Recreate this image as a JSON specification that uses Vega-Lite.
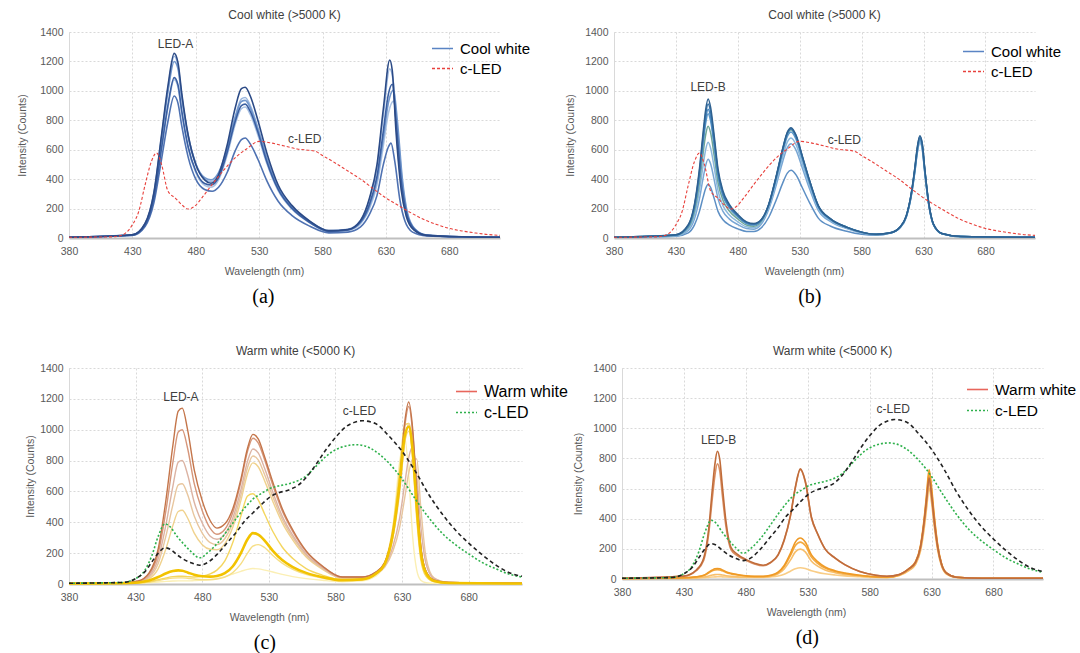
{
"$schema": "https://vega.github.io/schema/vega-lite/v6.json",
"padding": {"left": 17, "top": 9, "right": 0, "bottom": 0},
"config": {
 "font": "Liberation Sans",
 "view": {"stroke": null},
 "axis": {"labelFontSize": 10.5, "labelColor": "#595959", "titleFontSize": 10.5, "titleFontWeight": "normal", "titleColor": "#595959", "ticks": false, "gridColor": "#d9d9d9", "gridDash": [2, 2], "labelPadding": 6, "labelOverlap": false, "labelFlush": false},
 "axisX": {"domainColor": "#bfbfbf", "domainWidth": 2, "titlePadding": 10, "labelPadding": 8},
 "axisY": {"domainColor": "#d9d9d9", "format": "d"},
 "title": {"fontSize": 12, "fontWeight": "normal", "color": "#404040", "offset": 5},
 "legend": {"symbolType": "stroke", "symbolSize": 441, "symbolStrokeWidth": 1.6, "labelColor": "#000000", "labelFontSize": 16, "padding": 0, "rowPadding": 0, "labelOffset": 6, "orient": "none", "title": null}
},
"datasets": {
"a": [
{"s":"a5","x":380,"y":5},{"s":"a5","x":430,"y":19},{"s":"a5","x":440,"y":86},{"s":"a5","x":447,"y":268},{"s":"a5","x":453,"y":600},{"s":"a5","x":458,"y":885},{"s":"a5","x":463,"y":1075},{"s":"a5","x":466,"y":1025},{"s":"a5","x":469,"y":845},{"s":"a5","x":474,"y":610},{"s":"a5","x":480,"y":445},{"s":"a5","x":487,"y":358},{"s":"a5","x":492,"y":345},{"s":"a5","x":498,"y":395},{"s":"a5","x":505,"y":570},{"s":"a5","x":511,"y":770},{"s":"a5","x":516,"y":880},{"s":"a5","x":519,"y":890},{"s":"a5","x":523,"y":840},{"s":"a5","x":529,"y":700},{"s":"a5","x":536,"y":508},{"s":"a5","x":545,"y":322},{"s":"a5","x":556,"y":195},{"s":"a5","x":570,"y":103},{"s":"a5","x":585,"y":44},{"s":"a5","x":600,"y":52},{"s":"a5","x":610,"y":98},{"s":"a5","x":617,"y":200},{"s":"a5","x":623,"y":365},{"s":"a5","x":628,"y":630},{"s":"a5","x":632,"y":850},{"s":"a5","x":636,"y":930},{"s":"a5","x":639,"y":740},{"s":"a5","x":643,"y":370},{"s":"a5","x":647,"y":160},{"s":"a5","x":653,"y":55},{"s":"a5","x":662,"y":18},{"s":"a5","x":690,"y":8},{"s":"a5","x":720,"y":5},
{"s":"a2","x":380,"y":5},{"s":"a2","x":430,"y":22},{"s":"a2","x":440,"y":98},{"s":"a2","x":447,"y":305},{"s":"a2","x":453,"y":690},{"s":"a2","x":458,"y":1010},{"s":"a2","x":463,"y":1235},{"s":"a2","x":466,"y":1170},{"s":"a2","x":469,"y":965},{"s":"a2","x":474,"y":695},{"s":"a2","x":480,"y":505},{"s":"a2","x":487,"y":400},{"s":"a2","x":492,"y":382},{"s":"a2","x":498,"y":430},{"s":"a2","x":505,"y":610},{"s":"a2","x":511,"y":820},{"s":"a2","x":516,"y":945},{"s":"a2","x":519,"y":955},{"s":"a2","x":523,"y":900},{"s":"a2","x":529,"y":750},{"s":"a2","x":536,"y":545},{"s":"a2","x":545,"y":345},{"s":"a2","x":556,"y":210},{"s":"a2","x":570,"y":112},{"s":"a2","x":585,"y":50},{"s":"a2","x":600,"y":60},{"s":"a2","x":610,"y":120},{"s":"a2","x":617,"y":260},{"s":"a2","x":623,"y":480},{"s":"a2","x":628,"y":840},{"s":"a2","x":633,"y":1150},{"s":"a2","x":636,"y":1050},{"s":"a2","x":639,"y":640},{"s":"a2","x":643,"y":300},{"s":"a2","x":647,"y":130},{"s":"a2","x":653,"y":50},{"s":"a2","x":662,"y":18},{"s":"a2","x":690,"y":8},{"s":"a2","x":720,"y":5},
{"s":"a4","x":380,"y":5},{"s":"a4","x":430,"y":21},{"s":"a4","x":440,"y":95},{"s":"a4","x":447,"y":300},{"s":"a4","x":453,"y":675},{"s":"a4","x":458,"y":990},{"s":"a4","x":463,"y":1200},{"s":"a4","x":466,"y":1150},{"s":"a4","x":469,"y":950},{"s":"a4","x":474,"y":690},{"s":"a4","x":480,"y":505},{"s":"a4","x":487,"y":410},{"s":"a4","x":492,"y":395},{"s":"a4","x":498,"y":445},{"s":"a4","x":505,"y":615},{"s":"a4","x":511,"y":815},{"s":"a4","x":516,"y":928},{"s":"a4","x":519,"y":935},{"s":"a4","x":523,"y":885},{"s":"a4","x":529,"y":740},{"s":"a4","x":536,"y":540},{"s":"a4","x":545,"y":340},{"s":"a4","x":556,"y":208},{"s":"a4","x":570,"y":110},{"s":"a4","x":585,"y":48},{"s":"a4","x":600,"y":55},{"s":"a4","x":610,"y":105},{"s":"a4","x":617,"y":215},{"s":"a4","x":623,"y":395},{"s":"a4","x":628,"y":680},{"s":"a4","x":632,"y":920},{"s":"a4","x":636,"y":1005},{"s":"a4","x":639,"y":800},{"s":"a4","x":643,"y":400},{"s":"a4","x":647,"y":170},{"s":"a4","x":653,"y":60},{"s":"a4","x":662,"y":20},{"s":"a4","x":690,"y":8},{"s":"a4","x":720,"y":5},
{"s":"a6","x":380,"y":5},{"s":"a6","x":430,"y":17},{"s":"a6","x":440,"y":78},{"s":"a6","x":447,"y":240},{"s":"a6","x":453,"y":535},{"s":"a6","x":458,"y":790},{"s":"a6","x":463,"y":965},{"s":"a6","x":466,"y":915},{"s":"a6","x":469,"y":760},{"s":"a6","x":474,"y":550},{"s":"a6","x":480,"y":400},{"s":"a6","x":487,"y":330},{"s":"a6","x":493,"y":318},{"s":"a6","x":498,"y":345},{"s":"a6","x":505,"y":450},{"s":"a6","x":511,"y":590},{"s":"a6","x":516,"y":668},{"s":"a6","x":519,"y":680},{"s":"a6","x":523,"y":640},{"s":"a6","x":529,"y":535},{"s":"a6","x":536,"y":390},{"s":"a6","x":545,"y":250},{"s":"a6","x":556,"y":152},{"s":"a6","x":570,"y":80},{"s":"a6","x":585,"y":35},{"s":"a6","x":600,"y":40},{"s":"a6","x":610,"y":75},{"s":"a6","x":617,"y":160},{"s":"a6","x":623,"y":290},{"s":"a6","x":628,"y":500},{"s":"a6","x":632,"y":620},{"s":"a6","x":634,"y":645},{"s":"a6","x":637,"y":520},{"s":"a6","x":641,"y":260},{"s":"a6","x":645,"y":115},{"s":"a6","x":651,"y":40},{"s":"a6","x":662,"y":14},{"s":"a6","x":690,"y":7},{"s":"a6","x":720,"y":5},
{"s":"a3","x":380,"y":5},{"s":"a3","x":430,"y":20},{"s":"a3","x":440,"y":88},{"s":"a3","x":447,"y":272},{"s":"a3","x":453,"y":610},{"s":"a3","x":458,"y":900},{"s":"a3","x":463,"y":1090},{"s":"a3","x":466,"y":1040},{"s":"a3","x":469,"y":860},{"s":"a3","x":474,"y":620},{"s":"a3","x":480,"y":455},{"s":"a3","x":487,"y":370},{"s":"a3","x":492,"y":360},{"s":"a3","x":498,"y":410},{"s":"a3","x":505,"y":590},{"s":"a3","x":511,"y":790},{"s":"a3","x":516,"y":900},{"s":"a3","x":519,"y":910},{"s":"a3","x":523,"y":860},{"s":"a3","x":529,"y":720},{"s":"a3","x":536,"y":520},{"s":"a3","x":545,"y":330},{"s":"a3","x":556,"y":200},{"s":"a3","x":570,"y":105},{"s":"a3","x":585,"y":45},{"s":"a3","x":600,"y":55},{"s":"a3","x":610,"y":110},{"s":"a3","x":617,"y":230},{"s":"a3","x":623,"y":420},{"s":"a3","x":628,"y":730},{"s":"a3","x":632,"y":980},{"s":"a3","x":635,"y":1045},{"s":"a3","x":638,"y":800},{"s":"a3","x":642,"y":400},{"s":"a3","x":646,"y":180},{"s":"a3","x":652,"y":65},{"s":"a3","x":662,"y":20},{"s":"a3","x":690,"y":8},{"s":"a3","x":720,"y":5},
{"s":"a1","x":380,"y":5},{"s":"a1","x":430,"y":22},{"s":"a1","x":440,"y":100},{"s":"a1","x":447,"y":310},{"s":"a1","x":453,"y":700},{"s":"a1","x":458,"y":1030},{"s":"a1","x":463,"y":1255},{"s":"a1","x":466,"y":1190},{"s":"a1","x":469,"y":980},{"s":"a1","x":474,"y":700},{"s":"a1","x":480,"y":500},{"s":"a1","x":487,"y":395},{"s":"a1","x":492,"y":372},{"s":"a1","x":498,"y":430},{"s":"a1","x":505,"y":640},{"s":"a1","x":511,"y":880},{"s":"a1","x":516,"y":1015},{"s":"a1","x":519,"y":1025},{"s":"a1","x":523,"y":965},{"s":"a1","x":529,"y":800},{"s":"a1","x":536,"y":580},{"s":"a1","x":545,"y":360},{"s":"a1","x":556,"y":220},{"s":"a1","x":570,"y":115},{"s":"a1","x":585,"y":50},{"s":"a1","x":600,"y":58},{"s":"a1","x":610,"y":120},{"s":"a1","x":617,"y":270},{"s":"a1","x":623,"y":500},{"s":"a1","x":628,"y":880},{"s":"a1","x":633,"y":1210},{"s":"a1","x":635,"y":1140},{"s":"a1","x":638,"y":720},{"s":"a1","x":642,"y":330},{"s":"a1","x":646,"y":150},{"s":"a1","x":652,"y":55},{"s":"a1","x":662,"y":18},{"s":"a1","x":690,"y":8},{"s":"a1","x":720,"y":5}
],
"b": [
{"s":"b8","x":380,"y":5},{"s":"b8","x":430,"y":12},{"s":"b8","x":440,"y":35},{"s":"b8","x":445,"y":89},{"s":"b8","x":449,"y":181},{"s":"b8","x":452,"y":278},{"s":"b8","x":454,"y":336},{"s":"b8","x":456,"y":365},{"s":"b8","x":458,"y":344},{"s":"b8","x":461,"y":266},{"s":"b8","x":464,"y":181},{"s":"b8","x":468,"y":124},{"s":"b8","x":473,"y":89},{"s":"b8","x":480,"y":62},{"s":"b8","x":487,"y":45},{"s":"b8","x":493,"y":45},{"s":"b8","x":499,"y":70},{"s":"b8","x":505,"y":141},{"s":"b8","x":511,"y":258},{"s":"b8","x":516,"y":368},{"s":"b8","x":520,"y":441},{"s":"b8","x":523,"y":460},{"s":"b8","x":527,"y":429},{"s":"b8","x":532,"y":343},{"s":"b8","x":538,"y":239},{"s":"b8","x":545,"y":135},{"s":"b8","x":555,"y":80},{"s":"b8","x":568,"y":46},{"s":"b8","x":580,"y":25},{"s":"b8","x":592,"y":18},{"s":"b8","x":603,"y":33},{"s":"b8","x":611,"y":71},{"s":"b8","x":616,"y":143},{"s":"b8","x":620,"y":285},{"s":"b8","x":623,"y":456},{"s":"b8","x":625,"y":589},{"s":"b8","x":627,"y":660},{"s":"b8","x":629,"y":608},{"s":"b8","x":631,"y":447},{"s":"b8","x":634,"y":238},{"s":"b8","x":638,"y":90},{"s":"b8","x":645,"y":29},{"s":"b8","x":660,"y":10},{"s":"b8","x":720,"y":5},
{"s":"b7","x":380,"y":5},{"s":"b7","x":430,"y":14},{"s":"b7","x":440,"y":51},{"s":"b7","x":445,"y":130},{"s":"b7","x":449,"y":266},{"s":"b7","x":452,"y":408},{"s":"b7","x":454,"y":492},{"s":"b7","x":456,"y":535},{"s":"b7","x":458,"y":504},{"s":"b7","x":461,"y":391},{"s":"b7","x":464,"y":266},{"s":"b7","x":468,"y":181},{"s":"b7","x":473,"y":130},{"s":"b7","x":480,"y":91},{"s":"b7","x":487,"y":64},{"s":"b7","x":493,"y":60},{"s":"b7","x":499,"y":95},{"s":"b7","x":505,"y":196},{"s":"b7","x":511,"y":358},{"s":"b7","x":516,"y":512},{"s":"b7","x":520,"y":614},{"s":"b7","x":523,"y":640},{"s":"b7","x":527,"y":597},{"s":"b7","x":532,"y":478},{"s":"b7","x":538,"y":333},{"s":"b7","x":545,"y":188},{"s":"b7","x":555,"y":111},{"s":"b7","x":568,"y":64},{"s":"b7","x":580,"y":34},{"s":"b7","x":592,"y":22},{"s":"b7","x":603,"y":33},{"s":"b7","x":611,"y":70},{"s":"b7","x":616,"y":140},{"s":"b7","x":620,"y":281},{"s":"b7","x":623,"y":449},{"s":"b7","x":625,"y":580},{"s":"b7","x":627,"y":650},{"s":"b7","x":629,"y":598},{"s":"b7","x":631,"y":440},{"s":"b7","x":634,"y":234},{"s":"b7","x":638,"y":89},{"s":"b7","x":645,"y":28},{"s":"b7","x":660,"y":10},{"s":"b7","x":720,"y":5},
{"s":"b6","x":380,"y":5},{"s":"b6","x":430,"y":16},{"s":"b6","x":440,"y":62},{"s":"b6","x":445,"y":158},{"s":"b6","x":449,"y":323},{"s":"b6","x":452,"y":495},{"s":"b6","x":454,"y":599},{"s":"b6","x":456,"y":650},{"s":"b6","x":458,"y":612},{"s":"b6","x":461,"y":475},{"s":"b6","x":464,"y":323},{"s":"b6","x":468,"y":220},{"s":"b6","x":473,"y":158},{"s":"b6","x":480,"y":110},{"s":"b6","x":487,"y":76},{"s":"b6","x":493,"y":70},{"s":"b6","x":499,"y":105},{"s":"b6","x":505,"y":209},{"s":"b6","x":511,"y":381},{"s":"b6","x":516,"y":544},{"s":"b6","x":520,"y":653},{"s":"b6","x":523,"y":680},{"s":"b6","x":527,"y":635},{"s":"b6","x":532,"y":508},{"s":"b6","x":538,"y":354},{"s":"b6","x":545,"y":200},{"s":"b6","x":555,"y":118},{"s":"b6","x":568,"y":68},{"s":"b6","x":580,"y":36},{"s":"b6","x":592,"y":23},{"s":"b6","x":603,"y":33},{"s":"b6","x":611,"y":71},{"s":"b6","x":616,"y":143},{"s":"b6","x":620,"y":285},{"s":"b6","x":623,"y":456},{"s":"b6","x":625,"y":589},{"s":"b6","x":627,"y":660},{"s":"b6","x":629,"y":608},{"s":"b6","x":631,"y":447},{"s":"b6","x":634,"y":238},{"s":"b6","x":638,"y":90},{"s":"b6","x":645,"y":29},{"s":"b6","x":660,"y":10},{"s":"b6","x":720,"y":5},
{"s":"b5","x":380,"y":5},{"s":"b5","x":430,"y":18},{"s":"b5","x":440,"y":72},{"s":"b5","x":445,"y":185},{"s":"b5","x":449,"y":378},{"s":"b5","x":452,"y":579},{"s":"b5","x":454,"y":700},{"s":"b5","x":456,"y":760},{"s":"b5","x":458,"y":716},{"s":"b5","x":461,"y":555},{"s":"b5","x":464,"y":378},{"s":"b5","x":468,"y":257},{"s":"b5","x":473,"y":185},{"s":"b5","x":480,"y":129},{"s":"b5","x":487,"y":88},{"s":"b5","x":493,"y":80},{"s":"b5","x":499,"y":115},{"s":"b5","x":505,"y":225},{"s":"b5","x":511,"y":412},{"s":"b5","x":516,"y":588},{"s":"b5","x":520,"y":706},{"s":"b5","x":523,"y":735},{"s":"b5","x":527,"y":686},{"s":"b5","x":532,"y":549},{"s":"b5","x":538,"y":382},{"s":"b5","x":545,"y":216},{"s":"b5","x":555,"y":127},{"s":"b5","x":568,"y":74},{"s":"b5","x":580,"y":39},{"s":"b5","x":592,"y":24},{"s":"b5","x":603,"y":34},{"s":"b5","x":611,"y":73},{"s":"b5","x":616,"y":147},{"s":"b5","x":620,"y":293},{"s":"b5","x":623,"y":469},{"s":"b5","x":625,"y":606},{"s":"b5","x":627,"y":680},{"s":"b5","x":629,"y":626},{"s":"b5","x":631,"y":460},{"s":"b5","x":634,"y":245},{"s":"b5","x":638,"y":93},{"s":"b5","x":645,"y":29},{"s":"b5","x":660,"y":10},{"s":"b5","x":720,"y":5},
{"s":"b4","x":380,"y":5},{"s":"b4","x":430,"y":20},{"s":"b4","x":440,"y":80},{"s":"b4","x":445,"y":206},{"s":"b4","x":449,"y":420},{"s":"b4","x":452,"y":644},{"s":"b4","x":454,"y":778},{"s":"b4","x":456,"y":845},{"s":"b4","x":458,"y":796},{"s":"b4","x":461,"y":617},{"s":"b4","x":464,"y":420},{"s":"b4","x":468,"y":286},{"s":"b4","x":473,"y":206},{"s":"b4","x":480,"y":143},{"s":"b4","x":487,"y":98},{"s":"b4","x":493,"y":88},{"s":"b4","x":499,"y":120},{"s":"b4","x":505,"y":221},{"s":"b4","x":511,"y":403},{"s":"b4","x":516,"y":576},{"s":"b4","x":520,"y":691},{"s":"b4","x":523,"y":720},{"s":"b4","x":527,"y":672},{"s":"b4","x":532,"y":538},{"s":"b4","x":538,"y":374},{"s":"b4","x":545,"y":211},{"s":"b4","x":555,"y":125},{"s":"b4","x":568,"y":72},{"s":"b4","x":580,"y":38},{"s":"b4","x":592,"y":24},{"s":"b4","x":603,"y":34},{"s":"b4","x":611,"y":72},{"s":"b4","x":616,"y":145},{"s":"b4","x":620,"y":289},{"s":"b4","x":623,"y":463},{"s":"b4","x":625,"y":598},{"s":"b4","x":627,"y":670},{"s":"b4","x":629,"y":617},{"s":"b4","x":631,"y":453},{"s":"b4","x":634,"y":241},{"s":"b4","x":638,"y":92},{"s":"b4","x":645,"y":29},{"s":"b4","x":660,"y":10},{"s":"b4","x":720,"y":5},
{"s":"b3","x":380,"y":5},{"s":"b3","x":430,"y":20},{"s":"b3","x":440,"y":83},{"s":"b3","x":445,"y":213},{"s":"b3","x":449,"y":435},{"s":"b3","x":452,"y":667},{"s":"b3","x":454,"y":806},{"s":"b3","x":456,"y":875},{"s":"b3","x":458,"y":824},{"s":"b3","x":461,"y":639},{"s":"b3","x":464,"y":435},{"s":"b3","x":468,"y":296},{"s":"b3","x":473,"y":213},{"s":"b3","x":480,"y":148},{"s":"b3","x":487,"y":102},{"s":"b3","x":493,"y":92},{"s":"b3","x":499,"y":124},{"s":"b3","x":505,"y":228},{"s":"b3","x":511,"y":417},{"s":"b3","x":516,"y":596},{"s":"b3","x":520,"y":715},{"s":"b3","x":523,"y":745},{"s":"b3","x":527,"y":695},{"s":"b3","x":532,"y":556},{"s":"b3","x":538,"y":387},{"s":"b3","x":545,"y":218},{"s":"b3","x":555,"y":129},{"s":"b3","x":568,"y":74},{"s":"b3","x":580,"y":40},{"s":"b3","x":592,"y":25},{"s":"b3","x":603,"y":35},{"s":"b3","x":611,"y":74},{"s":"b3","x":616,"y":149},{"s":"b3","x":620,"y":298},{"s":"b3","x":623,"y":477},{"s":"b3","x":625,"y":616},{"s":"b3","x":627,"y":690},{"s":"b3","x":629,"y":636},{"s":"b3","x":631,"y":467},{"s":"b3","x":634,"y":248},{"s":"b3","x":638,"y":94},{"s":"b3","x":645,"y":30},{"s":"b3","x":660,"y":10},{"s":"b3","x":720,"y":5},
{"s":"b2","x":380,"y":5},{"s":"b2","x":430,"y":21},{"s":"b2","x":440,"y":87},{"s":"b2","x":445,"y":222},{"s":"b2","x":449,"y":453},{"s":"b2","x":452,"y":693},{"s":"b2","x":454,"y":838},{"s":"b2","x":456,"y":910},{"s":"b2","x":458,"y":857},{"s":"b2","x":461,"y":664},{"s":"b2","x":464,"y":453},{"s":"b2","x":468,"y":308},{"s":"b2","x":473,"y":222},{"s":"b2","x":480,"y":154},{"s":"b2","x":487,"y":106},{"s":"b2","x":493,"y":95},{"s":"b2","x":499,"y":123},{"s":"b2","x":505,"y":227},{"s":"b2","x":511,"y":415},{"s":"b2","x":516,"y":592},{"s":"b2","x":520,"y":711},{"s":"b2","x":523,"y":740},{"s":"b2","x":527,"y":691},{"s":"b2","x":532,"y":553},{"s":"b2","x":538,"y":385},{"s":"b2","x":545,"y":217},{"s":"b2","x":555,"y":128},{"s":"b2","x":568,"y":74},{"s":"b2","x":580,"y":40},{"s":"b2","x":592,"y":25},{"s":"b2","x":603,"y":34},{"s":"b2","x":611,"y":73},{"s":"b2","x":616,"y":147},{"s":"b2","x":620,"y":293},{"s":"b2","x":623,"y":469},{"s":"b2","x":625,"y":606},{"s":"b2","x":627,"y":680},{"s":"b2","x":629,"y":626},{"s":"b2","x":631,"y":460},{"s":"b2","x":634,"y":245},{"s":"b2","x":638,"y":93},{"s":"b2","x":645,"y":29},{"s":"b2","x":660,"y":10},{"s":"b2","x":720,"y":5},
{"s":"b1","x":380,"y":5},{"s":"b1","x":430,"y":22},{"s":"b1","x":440,"y":90},{"s":"b1","x":445,"y":230},{"s":"b1","x":449,"y":470},{"s":"b1","x":452,"y":720},{"s":"b1","x":454,"y":870},{"s":"b1","x":456,"y":945},{"s":"b1","x":458,"y":890},{"s":"b1","x":461,"y":690},{"s":"b1","x":464,"y":470},{"s":"b1","x":468,"y":320},{"s":"b1","x":473,"y":230},{"s":"b1","x":480,"y":160},{"s":"b1","x":487,"y":110},{"s":"b1","x":493,"y":98},{"s":"b1","x":499,"y":125},{"s":"b1","x":505,"y":230},{"s":"b1","x":511,"y":420},{"s":"b1","x":516,"y":600},{"s":"b1","x":520,"y":720},{"s":"b1","x":523,"y":750},{"s":"b1","x":527,"y":700},{"s":"b1","x":532,"y":560},{"s":"b1","x":538,"y":390},{"s":"b1","x":545,"y":220},{"s":"b1","x":555,"y":130},{"s":"b1","x":568,"y":72},{"s":"b1","x":580,"y":40},{"s":"b1","x":592,"y":25},{"s":"b1","x":603,"y":35},{"s":"b1","x":611,"y":75},{"s":"b1","x":616,"y":150},{"s":"b1","x":620,"y":300},{"s":"b1","x":623,"y":480},{"s":"b1","x":625,"y":620},{"s":"b1","x":627,"y":695},{"s":"b1","x":629,"y":640},{"s":"b1","x":631,"y":470},{"s":"b1","x":634,"y":250},{"s":"b1","x":638,"y":95},{"s":"b1","x":645,"y":30},{"s":"b1","x":660,"y":10},{"s":"b1","x":720,"y":5}
],
"c": [
{"s":"c9","x":380,"y":3},{"s":"c9","x":420,"y":4},{"s":"c9","x":432,"y":5},{"s":"c9","x":440,"y":8},{"s":"c9","x":447,"y":13},{"s":"c9","x":453,"y":17},{"s":"c9","x":458,"y":19},{"s":"c9","x":462,"y":20},{"s":"c9","x":465,"y":20},{"s":"c9","x":469,"y":20},{"s":"c9","x":474,"y":22},{"s":"c9","x":480,"y":25},{"s":"c9","x":486,"y":30},{"s":"c9","x":491,"y":36},{"s":"c9","x":497,"y":48},{"s":"c9","x":503,"y":65},{"s":"c9","x":509,"y":82},{"s":"c9","x":514,"y":95},{"s":"c9","x":518,"y":100},{"s":"c9","x":522,"y":98},{"s":"c9","x":527,"y":90},{"s":"c9","x":533,"y":78},{"s":"c9","x":540,"y":62},{"s":"c9","x":548,"y":48},{"s":"c9","x":558,"y":35},{"s":"c9","x":570,"y":24},{"s":"c9","x":585,"y":15},{"s":"c9","x":600,"y":20},{"s":"c9","x":610,"y":50},{"s":"c9","x":617,"y":130},{"s":"c9","x":623,"y":360},{"s":"c9","x":628,"y":780},{"s":"c9","x":632,"y":950},{"s":"c9","x":635,"y":700},{"s":"c9","x":638,"y":300},{"s":"c9","x":641,"y":90},{"s":"c9","x":644,"y":25},{"s":"c9","x":648,"y":8},{"s":"c9","x":654,"y":4},{"s":"c9","x":665,"y":3},{"s":"c9","x":720,"y":3},
{"s":"c8","x":380,"y":3},{"s":"c8","x":420,"y":5},{"s":"c8","x":432,"y":7},{"s":"c8","x":440,"y":12},{"s":"c8","x":447,"y":22},{"s":"c8","x":453,"y":32},{"s":"c8","x":458,"y":38},{"s":"c8","x":462,"y":40},{"s":"c8","x":465,"y":40},{"s":"c8","x":469,"y":37},{"s":"c8","x":474,"y":32},{"s":"c8","x":480,"y":28},{"s":"c8","x":486,"y":28},{"s":"c8","x":491,"y":32},{"s":"c8","x":497,"y":45},{"s":"c8","x":503,"y":75},{"s":"c8","x":509,"y":130},{"s":"c8","x":514,"y":200},{"s":"c8","x":518,"y":245},{"s":"c8","x":522,"y":255},{"s":"c8","x":527,"y":235},{"s":"c8","x":533,"y":185},{"s":"c8","x":540,"y":135},{"s":"c8","x":548,"y":95},{"s":"c8","x":558,"y":62},{"s":"c8","x":570,"y":38},{"s":"c8","x":585,"y":22},{"s":"c8","x":600,"y":28},{"s":"c8","x":610,"y":60},{"s":"c8","x":617,"y":125},{"s":"c8","x":623,"y":300},{"s":"c8","x":628,"y":600},{"s":"c8","x":632,"y":920},{"s":"c8","x":635,"y":990},{"s":"c8","x":638,"y":840},{"s":"c8","x":641,"y":490},{"s":"c8","x":644,"y":205},{"s":"c8","x":648,"y":68},{"s":"c8","x":654,"y":20},{"s":"c8","x":665,"y":6},{"s":"c8","x":720,"y":3},
{"s":"c6","x":380,"y":3},{"s":"c6","x":420,"y":5},{"s":"c6","x":432,"y":8},{"s":"c6","x":440,"y":15},{"s":"c6","x":447,"y":28},{"s":"c6","x":453,"y":40},{"s":"c6","x":458,"y":48},{"s":"c6","x":462,"y":50},{"s":"c6","x":465,"y":50},{"s":"c6","x":469,"y":48},{"s":"c6","x":474,"y":45},{"s":"c6","x":480,"y":50},{"s":"c6","x":486,"y":65},{"s":"c6","x":491,"y":90},{"s":"c6","x":497,"y":150},{"s":"c6","x":503,"y":270},{"s":"c6","x":509,"y":440},{"s":"c6","x":514,"y":570},{"s":"c6","x":518,"y":585},{"s":"c6","x":522,"y":545},{"s":"c6","x":527,"y":450},{"s":"c6","x":533,"y":340},{"s":"c6","x":540,"y":240},{"s":"c6","x":548,"y":165},{"s":"c6","x":558,"y":100},{"s":"c6","x":570,"y":58},{"s":"c6","x":585,"y":28},{"s":"c6","x":600,"y":30},{"s":"c6","x":610,"y":65},{"s":"c6","x":617,"y":140},{"s":"c6","x":623,"y":360},{"s":"c6","x":628,"y":720},{"s":"c6","x":632,"y":1030},{"s":"c6","x":635,"y":1040},{"s":"c6","x":638,"y":800},{"s":"c6","x":641,"y":420},{"s":"c6","x":644,"y":160},{"s":"c6","x":648,"y":50},{"s":"c6","x":654,"y":15},{"s":"c6","x":665,"y":5},{"s":"c6","x":720,"y":3},
{"s":"c5","x":380,"y":5},{"s":"c5","x":420,"y":7},{"s":"c5","x":432,"y":11},{"s":"c5","x":440,"y":33},{"s":"c5","x":447,"y":100},{"s":"c5","x":453,"y":235},{"s":"c5","x":458,"y":380},{"s":"c5","x":462,"y":470},{"s":"c5","x":465,"y":478},{"s":"c5","x":469,"y":428},{"s":"c5","x":474,"y":330},{"s":"c5","x":480,"y":255},{"s":"c5","x":486,"y":225},{"s":"c5","x":491,"y":222},{"s":"c5","x":497,"y":262},{"s":"c5","x":503,"y":370},{"s":"c5","x":509,"y":540},{"s":"c5","x":514,"y":715},{"s":"c5","x":518,"y":785},{"s":"c5","x":522,"y":760},{"s":"c5","x":527,"y":665},{"s":"c5","x":533,"y":535},{"s":"c5","x":540,"y":398},{"s":"c5","x":548,"y":285},{"s":"c5","x":558,"y":175},{"s":"c5","x":570,"y":97},{"s":"c5","x":585,"y":38},{"s":"c5","x":600,"y":40},{"s":"c5","x":610,"y":70},{"s":"c5","x":617,"y":130},{"s":"c5","x":623,"y":300},{"s":"c5","x":628,"y":580},{"s":"c5","x":632,"y":920},{"s":"c5","x":635,"y":1040},{"s":"c5","x":638,"y":920},{"s":"c5","x":641,"y":560},{"s":"c5","x":644,"y":240},{"s":"c5","x":648,"y":80},{"s":"c5","x":654,"y":25},{"s":"c5","x":665,"y":10},{"s":"c5","x":720,"y":5},
{"s":"c4","x":380,"y":5},{"s":"c4","x":420,"y":7},{"s":"c4","x":432,"y":13},{"s":"c4","x":440,"y":42},{"s":"c4","x":447,"y":135},{"s":"c4","x":453,"y":320},{"s":"c4","x":458,"y":515},{"s":"c4","x":462,"y":642},{"s":"c4","x":465,"y":650},{"s":"c4","x":469,"y":580},{"s":"c4","x":474,"y":440},{"s":"c4","x":480,"y":330},{"s":"c4","x":486,"y":268},{"s":"c4","x":491,"y":255},{"s":"c4","x":497,"y":295},{"s":"c4","x":503,"y":400},{"s":"c4","x":509,"y":575},{"s":"c4","x":514,"y":755},{"s":"c4","x":518,"y":830},{"s":"c4","x":522,"y":805},{"s":"c4","x":527,"y":705},{"s":"c4","x":533,"y":565},{"s":"c4","x":540,"y":420},{"s":"c4","x":548,"y":300},{"s":"c4","x":558,"y":185},{"s":"c4","x":570,"y":102},{"s":"c4","x":585,"y":40},{"s":"c4","x":600,"y":40},{"s":"c4","x":610,"y":65},{"s":"c4","x":617,"y":110},{"s":"c4","x":623,"y":210},{"s":"c4","x":628,"y":360},{"s":"c4","x":632,"y":560},{"s":"c4","x":635,"y":720},{"s":"c4","x":638,"y":810},{"s":"c4","x":641,"y":810},{"s":"c4","x":644,"y":500},{"s":"c4","x":648,"y":170},{"s":"c4","x":654,"y":40},{"s":"c4","x":665,"y":10},{"s":"c4","x":720,"y":5},
{"s":"c3","x":380,"y":5},{"s":"c3","x":420,"y":7},{"s":"c3","x":432,"y":15},{"s":"c3","x":440,"y":50},{"s":"c3","x":447,"y":165},{"s":"c3","x":453,"y":395},{"s":"c3","x":458,"y":635},{"s":"c3","x":462,"y":790},{"s":"c3","x":465,"y":800},{"s":"c3","x":469,"y":710},{"s":"c3","x":474,"y":530},{"s":"c3","x":480,"y":395},{"s":"c3","x":486,"y":310},{"s":"c3","x":491,"y":290},{"s":"c3","x":497,"y":325},{"s":"c3","x":503,"y":430},{"s":"c3","x":509,"y":610},{"s":"c3","x":514,"y":795},{"s":"c3","x":518,"y":875},{"s":"c3","x":522,"y":850},{"s":"c3","x":527,"y":745},{"s":"c3","x":533,"y":595},{"s":"c3","x":540,"y":440},{"s":"c3","x":548,"y":315},{"s":"c3","x":558,"y":195},{"s":"c3","x":570,"y":108},{"s":"c3","x":585,"y":42},{"s":"c3","x":600,"y":42},{"s":"c3","x":610,"y":70},{"s":"c3","x":617,"y":120},{"s":"c3","x":623,"y":240},{"s":"c3","x":628,"y":420},{"s":"c3","x":632,"y":650},{"s":"c3","x":635,"y":820},{"s":"c3","x":638,"y":890},{"s":"c3","x":641,"y":700},{"s":"c3","x":644,"y":380},{"s":"c3","x":648,"y":130},{"s":"c3","x":654,"y":35},{"s":"c3","x":665,"y":10},{"s":"c3","x":720,"y":5},
{"s":"c2","x":380,"y":5},{"s":"c2","x":420,"y":8},{"s":"c2","x":432,"y":18},{"s":"c2","x":440,"y":62},{"s":"c2","x":447,"y":200},{"s":"c2","x":453,"y":490},{"s":"c2","x":458,"y":790},{"s":"c2","x":462,"y":985},{"s":"c2","x":465,"y":1000},{"s":"c2","x":469,"y":880},{"s":"c2","x":474,"y":650},{"s":"c2","x":480,"y":475},{"s":"c2","x":486,"y":360},{"s":"c2","x":491,"y":322},{"s":"c2","x":497,"y":355},{"s":"c2","x":503,"y":465},{"s":"c2","x":509,"y":660},{"s":"c2","x":514,"y":860},{"s":"c2","x":518,"y":945},{"s":"c2","x":522,"y":915},{"s":"c2","x":527,"y":800},{"s":"c2","x":533,"y":640},{"s":"c2","x":540,"y":475},{"s":"c2","x":548,"y":340},{"s":"c2","x":558,"y":210},{"s":"c2","x":570,"y":115},{"s":"c2","x":585,"y":45},{"s":"c2","x":600,"y":45},{"s":"c2","x":610,"y":75},{"s":"c2","x":617,"y":138},{"s":"c2","x":623,"y":325},{"s":"c2","x":628,"y":625},{"s":"c2","x":632,"y":1020},{"s":"c2","x":635,"y":1150},{"s":"c2","x":638,"y":975},{"s":"c2","x":641,"y":585},{"s":"c2","x":644,"y":245},{"s":"c2","x":648,"y":80},{"s":"c2","x":654,"y":25},{"s":"c2","x":665,"y":10},{"s":"c2","x":720,"y":5},
{"s":"c1","x":380,"y":5},{"s":"c1","x":420,"y":8},{"s":"c1","x":432,"y":20},{"s":"c1","x":440,"y":70},{"s":"c1","x":447,"y":230},{"s":"c1","x":453,"y":560},{"s":"c1","x":458,"y":900},{"s":"c1","x":462,"y":1120},{"s":"c1","x":465,"y":1140},{"s":"c1","x":469,"y":1000},{"s":"c1","x":474,"y":740},{"s":"c1","x":480,"y":540},{"s":"c1","x":486,"y":410},{"s":"c1","x":491,"y":362},{"s":"c1","x":497,"y":390},{"s":"c1","x":503,"y":490},{"s":"c1","x":509,"y":680},{"s":"c1","x":514,"y":880},{"s":"c1","x":518,"y":970},{"s":"c1","x":522,"y":940},{"s":"c1","x":527,"y":820},{"s":"c1","x":533,"y":660},{"s":"c1","x":540,"y":490},{"s":"c1","x":548,"y":350},{"s":"c1","x":558,"y":215},{"s":"c1","x":570,"y":118},{"s":"c1","x":585,"y":45},{"s":"c1","x":600,"y":45},{"s":"c1","x":610,"y":75},{"s":"c1","x":617,"y":140},{"s":"c1","x":623,"y":330},{"s":"c1","x":628,"y":640},{"s":"c1","x":632,"y":1050},{"s":"c1","x":635,"y":1180},{"s":"c1","x":638,"y":1000},{"s":"c1","x":641,"y":600},{"s":"c1","x":644,"y":250},{"s":"c1","x":648,"y":80},{"s":"c1","x":654,"y":25},{"s":"c1","x":665,"y":10},{"s":"c1","x":720,"y":5}
],
"c7": [
{"s":"c7","x":380,"y":3},{"s":"c7","x":420,"y":5},{"s":"c7","x":432,"y":10},{"s":"c7","x":440,"y":22},{"s":"c7","x":447,"y":45},{"s":"c7","x":453,"y":70},{"s":"c7","x":458,"y":84},{"s":"c7","x":462,"y":88},{"s":"c7","x":465,"y":86},{"s":"c7","x":469,"y":75},{"s":"c7","x":474,"y":60},{"s":"c7","x":480,"y":50},{"s":"c7","x":486,"y":48},{"s":"c7","x":491,"y":52},{"s":"c7","x":497,"y":70},{"s":"c7","x":503,"y":115},{"s":"c7","x":509,"y":200},{"s":"c7","x":514,"y":290},{"s":"c7","x":518,"y":330},{"s":"c7","x":522,"y":320},{"s":"c7","x":527,"y":280},{"s":"c7","x":533,"y":215},{"s":"c7","x":540,"y":155},{"s":"c7","x":548,"y":110},{"s":"c7","x":558,"y":72},{"s":"c7","x":570,"y":45},{"s":"c7","x":585,"y":25},{"s":"c7","x":600,"y":30},{"s":"c7","x":610,"y":65},{"s":"c7","x":617,"y":130},{"s":"c7","x":623,"y":320},{"s":"c7","x":628,"y":640},{"s":"c7","x":632,"y":960},{"s":"c7","x":635,"y":1020},{"s":"c7","x":638,"y":860},{"s":"c7","x":641,"y":500},{"s":"c7","x":644,"y":210},{"s":"c7","x":648,"y":70},{"s":"c7","x":654,"y":20},{"s":"c7","x":665,"y":6},{"s":"c7","x":720,"y":3}
],
"d": [
{"s":"d6","x":380,"y":3},{"s":"d6","x":430,"y":4},{"s":"d6","x":440,"y":6},{"s":"d6","x":446,"y":8},{"s":"d6","x":450,"y":11},{"s":"d6","x":453,"y":13},{"s":"d6","x":455,"y":14},{"s":"d6","x":457,"y":15},{"s":"d6","x":459,"y":15},{"s":"d6","x":461,"y":14},{"s":"d6","x":464,"y":13},{"s":"d6","x":468,"y":12},{"s":"d6","x":473,"y":11},{"s":"d6","x":480,"y":10},{"s":"d6","x":487,"y":10},{"s":"d6","x":494,"y":11},{"s":"d6","x":500,"y":14},{"s":"d6","x":506,"y":20},{"s":"d6","x":511,"y":32},{"s":"d6","x":516,"y":52},{"s":"d6","x":520,"y":68},{"s":"d6","x":524,"y":75},{"s":"d6","x":528,"y":70},{"s":"d6","x":533,"y":55},{"s":"d6","x":538,"y":44},{"s":"d6","x":544,"y":35},{"s":"d6","x":552,"y":27},{"s":"d6","x":560,"y":21},{"s":"d6","x":572,"y":15},{"s":"d6","x":585,"y":10},{"s":"d6","x":594,"y":9},{"s":"d6","x":604,"y":25},{"s":"d6","x":612,"y":62},{"s":"d6","x":617,"y":100},{"s":"d6","x":621,"y":195},{"s":"d6","x":624,"y":352},{"s":"d6","x":626,"y":498},{"s":"d6","x":628,"y":640},{"s":"d6","x":630,"y":537},{"s":"d6","x":632,"y":383},{"s":"d6","x":635,"y":198},{"s":"d6","x":638,"y":93},{"s":"d6","x":642,"y":35},{"s":"d6","x":650,"y":11},{"s":"d6","x":670,"y":5},{"s":"d6","x":720,"y":5},
{"s":"d5","x":380,"y":3},{"s":"d5","x":430,"y":6},{"s":"d5","x":440,"y":9},{"s":"d5","x":446,"y":13},{"s":"d5","x":450,"y":20},{"s":"d5","x":453,"y":26},{"s":"d5","x":455,"y":29},{"s":"d5","x":457,"y":30},{"s":"d5","x":459,"y":29},{"s":"d5","x":461,"y":26},{"s":"d5","x":464,"y":22},{"s":"d5","x":468,"y":18},{"s":"d5","x":473,"y":15},{"s":"d5","x":480,"y":13},{"s":"d5","x":487,"y":12},{"s":"d5","x":494,"y":13},{"s":"d5","x":500,"y":19},{"s":"d5","x":506,"y":34},{"s":"d5","x":511,"y":67},{"s":"d5","x":516,"y":125},{"s":"d5","x":520,"y":180},{"s":"d5","x":524,"y":198},{"s":"d5","x":528,"y":180},{"s":"d5","x":533,"y":118},{"s":"d5","x":538,"y":85},{"s":"d5","x":544,"y":60},{"s":"d5","x":552,"y":42},{"s":"d5","x":560,"y":30},{"s":"d5","x":572,"y":20},{"s":"d5","x":585,"y":12},{"s":"d5","x":594,"y":11},{"s":"d5","x":604,"y":24},{"s":"d5","x":612,"y":58},{"s":"d5","x":617,"y":95},{"s":"d5","x":621,"y":183},{"s":"d5","x":624,"y":333},{"s":"d5","x":626,"y":470},{"s":"d5","x":628,"y":605},{"s":"d5","x":630,"y":508},{"s":"d5","x":632,"y":363},{"s":"d5","x":635,"y":188},{"s":"d5","x":638,"y":88},{"s":"d5","x":642,"y":33},{"s":"d5","x":650,"y":10},{"s":"d5","x":670,"y":5},{"s":"d5","x":720,"y":5},
{"s":"d4","x":380,"y":3},{"s":"d4","x":430,"y":8},{"s":"d4","x":440,"y":14},{"s":"d4","x":446,"y":23},{"s":"d4","x":450,"y":40},{"s":"d4","x":453,"y":54},{"s":"d4","x":455,"y":60},{"s":"d4","x":457,"y":62},{"s":"d4","x":459,"y":60},{"s":"d4","x":461,"y":54},{"s":"d4","x":464,"y":43},{"s":"d4","x":468,"y":34},{"s":"d4","x":473,"y":27},{"s":"d4","x":480,"y":20},{"s":"d4","x":487,"y":16},{"s":"d4","x":494,"y":16},{"s":"d4","x":500,"y":23},{"s":"d4","x":506,"y":41},{"s":"d4","x":511,"y":82},{"s":"d4","x":516,"y":155},{"s":"d4","x":520,"y":222},{"s":"d4","x":524,"y":245},{"s":"d4","x":528,"y":222},{"s":"d4","x":533,"y":145},{"s":"d4","x":538,"y":104},{"s":"d4","x":544,"y":72},{"s":"d4","x":552,"y":50},{"s":"d4","x":560,"y":36},{"s":"d4","x":572,"y":23},{"s":"d4","x":585,"y":14},{"s":"d4","x":594,"y":12},{"s":"d4","x":604,"y":27},{"s":"d4","x":612,"y":68},{"s":"d4","x":617,"y":110},{"s":"d4","x":621,"y":212},{"s":"d4","x":624,"y":385},{"s":"d4","x":626,"y":545},{"s":"d4","x":628,"y":700},{"s":"d4","x":630,"y":588},{"s":"d4","x":632,"y":420},{"s":"d4","x":635,"y":217},{"s":"d4","x":638,"y":101},{"s":"d4","x":642,"y":38},{"s":"d4","x":650,"y":12},{"s":"d4","x":670,"y":5},{"s":"d4","x":720,"y":5},
{"s":"d3","x":380,"y":3},{"s":"d3","x":430,"y":8},{"s":"d3","x":440,"y":15},{"s":"d3","x":446,"y":25},{"s":"d3","x":450,"y":45},{"s":"d3","x":453,"y":60},{"s":"d3","x":455,"y":68},{"s":"d3","x":457,"y":70},{"s":"d3","x":459,"y":68},{"s":"d3","x":461,"y":60},{"s":"d3","x":464,"y":48},{"s":"d3","x":468,"y":38},{"s":"d3","x":473,"y":30},{"s":"d3","x":480,"y":22},{"s":"d3","x":487,"y":18},{"s":"d3","x":494,"y":18},{"s":"d3","x":500,"y":25},{"s":"d3","x":506,"y":45},{"s":"d3","x":511,"y":90},{"s":"d3","x":516,"y":170},{"s":"d3","x":520,"y":245},{"s":"d3","x":524,"y":272},{"s":"d3","x":528,"y":245},{"s":"d3","x":533,"y":160},{"s":"d3","x":538,"y":115},{"s":"d3","x":544,"y":80},{"s":"d3","x":552,"y":55},{"s":"d3","x":560,"y":40},{"s":"d3","x":572,"y":25},{"s":"d3","x":585,"y":15},{"s":"d3","x":594,"y":13},{"s":"d3","x":604,"y":28},{"s":"d3","x":612,"y":70},{"s":"d3","x":617,"y":115},{"s":"d3","x":621,"y":220},{"s":"d3","x":624,"y":400},{"s":"d3","x":626,"y":565},{"s":"d3","x":628,"y":727},{"s":"d3","x":630,"y":610},{"s":"d3","x":632,"y":435},{"s":"d3","x":635,"y":225},{"s":"d3","x":638,"y":105},{"s":"d3","x":642,"y":40},{"s":"d3","x":650,"y":12},{"s":"d3","x":670,"y":5},{"s":"d3","x":720,"y":5},
{"s":"d2","x":380,"y":5},{"s":"d2","x":430,"y":18},{"s":"d2","x":440,"y":55},{"s":"d2","x":446,"y":125},{"s":"d2","x":450,"y":300},{"s":"d2","x":453,"y":540},{"s":"d2","x":455,"y":685},{"s":"d2","x":457,"y":765},{"s":"d2","x":459,"y":715},{"s":"d2","x":461,"y":560},{"s":"d2","x":464,"y":345},{"s":"d2","x":468,"y":195},{"s":"d2","x":473,"y":155},{"s":"d2","x":480,"y":125},{"s":"d2","x":487,"y":100},{"s":"d2","x":494,"y":88},{"s":"d2","x":500,"y":108},{"s":"d2","x":506,"y":157},{"s":"d2","x":511,"y":255},{"s":"d2","x":516,"y":415},{"s":"d2","x":520,"y":605},{"s":"d2","x":524,"y":725},{"s":"d2","x":528,"y":645},{"s":"d2","x":533,"y":405},{"s":"d2","x":538,"y":297},{"s":"d2","x":544,"y":198},{"s":"d2","x":552,"y":138},{"s":"d2","x":560,"y":94},{"s":"d2","x":572,"y":50},{"s":"d2","x":585,"y":25},{"s":"d2","x":594,"y":18},{"s":"d2","x":604,"y":30},{"s":"d2","x":612,"y":68},{"s":"d2","x":617,"y":108},{"s":"d2","x":621,"y":205},{"s":"d2","x":624,"y":372},{"s":"d2","x":626,"y":520},{"s":"d2","x":628,"y":660},{"s":"d2","x":630,"y":550},{"s":"d2","x":632,"y":393},{"s":"d2","x":635,"y":207},{"s":"d2","x":638,"y":98},{"s":"d2","x":642,"y":39},{"s":"d2","x":650,"y":12},{"s":"d2","x":670,"y":5},{"s":"d2","x":720,"y":5},
{"s":"d1","x":380,"y":5},{"s":"d1","x":430,"y":20},{"s":"d1","x":440,"y":60},{"s":"d1","x":446,"y":140},{"s":"d1","x":450,"y":330},{"s":"d1","x":453,"y":600},{"s":"d1","x":455,"y":760},{"s":"d1","x":457,"y":848},{"s":"d1","x":459,"y":790},{"s":"d1","x":461,"y":620},{"s":"d1","x":464,"y":380},{"s":"d1","x":468,"y":210},{"s":"d1","x":473,"y":165},{"s":"d1","x":480,"y":130},{"s":"d1","x":487,"y":105},{"s":"d1","x":494,"y":91},{"s":"d1","x":500,"y":110},{"s":"d1","x":506,"y":160},{"s":"d1","x":511,"y":260},{"s":"d1","x":516,"y":420},{"s":"d1","x":520,"y":610},{"s":"d1","x":524,"y":731},{"s":"d1","x":528,"y":650},{"s":"d1","x":533,"y":410},{"s":"d1","x":538,"y":300},{"s":"d1","x":544,"y":200},{"s":"d1","x":552,"y":140},{"s":"d1","x":560,"y":95},{"s":"d1","x":572,"y":50},{"s":"d1","x":585,"y":25},{"s":"d1","x":594,"y":18},{"s":"d1","x":604,"y":30},{"s":"d1","x":612,"y":70},{"s":"d1","x":617,"y":110},{"s":"d1","x":621,"y":210},{"s":"d1","x":624,"y":380},{"s":"d1","x":626,"y":530},{"s":"d1","x":628,"y":671},{"s":"d1","x":630,"y":560},{"s":"d1","x":632,"y":400},{"s":"d1","x":635,"y":210},{"s":"d1","x":638,"y":100},{"s":"d1","x":642,"y":40},{"s":"d1","x":650,"y":12},{"s":"d1","x":670,"y":5},{"s":"d1","x":720,"y":5}
],
"rc": [
{"g":"c-LED","x":380,"y":5},{"g":"c-LED","x":415,"y":8},{"g":"c-LED","x":422,"y":20},{"g":"c-LED","x":430,"y":90},{"g":"c-LED","x":435,"y":180},{"g":"c-LED","x":440,"y":360},{"g":"c-LED","x":445,"y":520},{"g":"c-LED","x":449,"y":578},{"g":"c-LED","x":453,"y":500},{"g":"c-LED","x":458,"y":320},{"g":"c-LED","x":464,"y":270},{"g":"c-LED","x":469,"y":226},{"g":"c-LED","x":474,"y":197},{"g":"c-LED","x":479,"y":215},{"g":"c-LED","x":485,"y":275},{"g":"c-LED","x":493,"y":365},{"g":"c-LED","x":500,"y":440},{"g":"c-LED","x":506,"y":500},{"g":"c-LED","x":513,"y":560},{"g":"c-LED","x":520,"y":605},{"g":"c-LED","x":530,"y":657},{"g":"c-LED","x":540,"y":645},{"g":"c-LED","x":550,"y":625},{"g":"c-LED","x":560,"y":605},{"g":"c-LED","x":574,"y":590},{"g":"c-LED","x":580,"y":560},{"g":"c-LED","x":590,"y":510},{"g":"c-LED","x":600,"y":455},{"g":"c-LED","x":610,"y":400},{"g":"c-LED","x":620,"y":335},{"g":"c-LED","x":630,"y":272},{"g":"c-LED","x":640,"y":220},{"g":"c-LED","x":650,"y":170},{"g":"c-LED","x":660,"y":125},{"g":"c-LED","x":670,"y":92},{"g":"c-LED","x":680,"y":65},{"g":"c-LED","x":690,"y":48},{"g":"c-LED","x":700,"y":35},{"g":"c-LED","x":710,"y":24},{"g":"c-LED","x":720,"y":18}
],
"wc": [
{"g":"c-LED","x":380,"y":5},{"g":"c-LED","x":420,"y":10},{"g":"c-LED","x":430,"y":35},{"g":"c-LED","x":437,"y":90},{"g":"c-LED","x":442,"y":180},{"g":"c-LED","x":447,"y":310},{"g":"c-LED","x":452,"y":390},{"g":"c-LED","x":456,"y":370},{"g":"c-LED","x":461,"y":310},{"g":"c-LED","x":466,"y":260},{"g":"c-LED","x":471,"y":215},{"g":"c-LED","x":478,"y":170},{"g":"c-LED","x":485,"y":210},{"g":"c-LED","x":492,"y":270},{"g":"c-LED","x":500,"y":360},{"g":"c-LED","x":506,"y":430},{"g":"c-LED","x":512,"y":495},{"g":"c-LED","x":518,"y":550},{"g":"c-LED","x":525,"y":590},{"g":"c-LED","x":531,"y":620},{"g":"c-LED","x":537,"y":635},{"g":"c-LED","x":545,"y":650},{"g":"c-LED","x":552,"y":670},{"g":"c-LED","x":558,"y":700},{"g":"c-LED","x":565,"y":760},{"g":"c-LED","x":572,"y":820},{"g":"c-LED","x":580,"y":870},{"g":"c-LED","x":588,"y":895},{"g":"c-LED","x":595,"y":903},{"g":"c-LED","x":602,"y":895},{"g":"c-LED","x":610,"y":860},{"g":"c-LED","x":620,"y":785},{"g":"c-LED","x":630,"y":680},{"g":"c-LED","x":640,"y":550},{"g":"c-LED","x":650,"y":430},{"g":"c-LED","x":660,"y":330},{"g":"c-LED","x":670,"y":255},{"g":"c-LED","x":680,"y":195},{"g":"c-LED","x":690,"y":140},{"g":"c-LED","x":700,"y":100},{"g":"c-LED","x":710,"y":65},{"g":"c-LED","x":720,"y":45},
{"g":"ref","x":380,"y":5},{"g":"ref","x":420,"y":10},{"g":"ref","x":430,"y":35},{"g":"ref","x":437,"y":80},{"g":"ref","x":442,"y":140},{"g":"ref","x":447,"y":200},{"g":"ref","x":452,"y":235},{"g":"ref","x":456,"y":225},{"g":"ref","x":461,"y":190},{"g":"ref","x":466,"y":160},{"g":"ref","x":471,"y":140},{"g":"ref","x":478,"y":122},{"g":"ref","x":485,"y":145},{"g":"ref","x":492,"y":200},{"g":"ref","x":500,"y":280},{"g":"ref","x":506,"y":340},{"g":"ref","x":512,"y":410},{"g":"ref","x":518,"y":460},{"g":"ref","x":525,"y":520},{"g":"ref","x":531,"y":565},{"g":"ref","x":537,"y":590},{"g":"ref","x":545,"y":610},{"g":"ref","x":552,"y":640},{"g":"ref","x":558,"y":690},{"g":"ref","x":565,"y":770},{"g":"ref","x":572,"y":860},{"g":"ref","x":580,"y":950},{"g":"ref","x":588,"y":1020},{"g":"ref","x":595,"y":1050},{"g":"ref","x":600,"y":1058},{"g":"ref","x":610,"y":1040},{"g":"ref","x":620,"y":960},{"g":"ref","x":630,"y":860},{"g":"ref","x":640,"y":730},{"g":"ref","x":650,"y":580},{"g":"ref","x":660,"y":455},{"g":"ref","x":670,"y":350},{"g":"ref","x":680,"y":265},{"g":"ref","x":690,"y":190},{"g":"ref","x":700,"y":125},{"g":"ref","x":710,"y":75},{"g":"ref","x":720,"y":50}
],
"ta": [{"t":"LED-A","x":464,"y":1320},{"t":"c-LED","x":566,"y":673}],
"tb": [{"t":"LED-B","x":456,"y":1025},{"t":"c-LED","x":566,"y":669}],
"tc": [{"t":"LED-A","x":464,"y":1210},{"t":"c-LED","x":598,"y":1122}],
"td": [{"t":"LED-B","x":458,"y":922},{"t":"c-LED","x":599,"y":1130}]
},
"spacing": 38,
"resolve": {"scale": {"color": "independent", "strokeDash": "independent"}, "legend": {"color": "independent", "strokeDash": "independent"}},
"vconcat": [
{
 "spacing": 34,
 "resolve": {"scale": {"color": "independent", "strokeDash": "independent"}, "legend": {"color": "independent", "strokeDash": "independent"}},
 "hconcat": [
 {
  "title": {"text": "(a)", "orient": "bottom", "anchor": "middle", "dx": -11, "font": "Liberation Serif", "fontSize": 20, "color": "#000000", "offset": 10},
  "resolve": {"scale": {"color": "independent", "strokeDash": "independent"}, "legend": {"color": "independent", "strokeDash": "independent"}},
  "vconcat": [{
   "width": 431, "height": 206,
   "title": {"text": "Cool white (>5000 K)"},
   "resolve": {"scale": {"color": "independent", "strokeDash": "independent"}, "legend": {"color": "independent", "strokeDash": "independent"}},
   "layer": [
    {"data": {"name": "a"}, "mark": {"type": "line", "interpolate": "monotone", "strokeWidth": 1.6},
     "encoding": {
      "x": {"field": "x", "type": "quantitative", "scale": {"domain": [380, 720], "nice": false}, "axis": {"values": [380, 430, 480, 530, 580, 630, 680], "labelOverlap": false, "title": "Wavelength (nm)", "titleX": 195}},
      "y": {"field": "y", "type": "quantitative", "scale": {"domain": [0, 1400], "nice": false}, "axis": {"values": [0, 200, 400, 600, 800, 1000, 1200, 1400], "tickCount": 8, "labelOverlap": false, "labelBound": false, "title": "Intensity (Counts)", "titlePadding": 12}},
      "color": {"field": "s", "type": "nominal", "scale": {"domain": ["a1", "a2", "a3", "a4", "a5", "a6"], "range": ["#2b4a86", "#9ab6de", "#3a5fa2", "#7096cc", "#aac2e3", "#4f72b2"]}, "legend": null}
     }},
    {"data": {"name": "rc"}, "mark": {"type": "line", "interpolate": "monotone", "strokeWidth": 1.1},
     "encoding": {
      "x": {"field": "x", "type": "quantitative"},
      "y": {"field": "y", "type": "quantitative"},
      "color": {"field": "g", "type": "nominal", "scale": {"domain": ["Cool white", "c-LED"], "range": ["#5a84c4", "#e8413c"]}, "legend": {"values": ["Cool white", "c-LED"], "legendX": 362, "legendY": 5, "labelFontSize": 15}},
      "strokeDash": {"field": "g", "type": "nominal", "scale": {"domain": ["Cool white", "c-LED"], "range": [[1, 0], [3, 2]]}, "legend": {"values": ["Cool white", "c-LED"], "legendX": 362, "legendY": 5, "labelFontSize": 15}}
     }},
    {"data": {"name": "ta"}, "mark": {"type": "text", "fontSize": 12, "color": "#404040"},
     "encoding": {"x": {"field": "x", "type": "quantitative"}, "y": {"field": "y", "type": "quantitative"}, "text": {"field": "t"}}}
   ]
  }]
 },
 {
  "title": {"text": "(b)", "orient": "bottom", "anchor": "middle", "dx": -4, "font": "Liberation Serif", "fontSize": 20, "color": "#000000", "offset": 10},
  "resolve": {"scale": {"color": "independent", "strokeDash": "independent"}, "legend": {"color": "independent", "strokeDash": "independent"}},
  "vconcat": [{
   "width": 421, "height": 206,
   "title": {"text": "Cool white (>5000 K)"},
   "resolve": {"scale": {"color": "independent", "strokeDash": "independent"}, "legend": {"color": "independent", "strokeDash": "independent"}},
   "layer": [
    {"data": {"name": "b"}, "mark": {"type": "line", "interpolate": "monotone", "strokeWidth": 1.5},
     "encoding": {
      "x": {"field": "x", "type": "quantitative", "scale": {"domain": [380, 720], "nice": false}, "axis": {"values": [380, 430, 480, 530, 580, 630, 680], "labelOverlap": false, "title": "Wavelength (nm)", "titleX": 190}},
      "y": {"field": "y", "type": "quantitative", "scale": {"domain": [0, 1400], "nice": false}, "axis": {"values": [0, 200, 400, 600, 800, 1000, 1200, 1400], "tickCount": 8, "labelOverlap": false, "labelBound": false, "title": "Intensity (Counts)", "titlePadding": 9}},
      "color": {"field": "s", "type": "nominal", "scale": {"domain": ["b1", "b2", "b3", "b4", "b5", "b6", "b7", "b8"], "range": ["#2e6190", "#3b77ad", "#4a88bf", "#5b98c9", "#6ea596", "#8bb8dc", "#78a6d4", "#5d8fc4"]}, "legend": null}
     }},
    {"data": {"name": "rc"}, "mark": {"type": "line", "interpolate": "monotone", "strokeWidth": 1.1},
     "encoding": {
      "x": {"field": "x", "type": "quantitative"},
      "y": {"field": "y", "type": "quantitative"},
      "color": {"field": "g", "type": "nominal", "scale": {"domain": ["Cool white", "c-LED"], "range": ["#5a84c4", "#e8413c"]}, "legend": {"values": ["Cool white", "c-LED"], "legendX": 348, "legendY": 8, "labelFontSize": 15}},
      "strokeDash": {"field": "g", "type": "nominal", "scale": {"domain": ["Cool white", "c-LED"], "range": [[1, 0], [3, 2]]}, "legend": {"values": ["Cool white", "c-LED"], "legendX": 348, "legendY": 8, "labelFontSize": 15}}
     }},
    {"data": {"name": "tb"}, "mark": {"type": "text", "fontSize": 12, "color": "#404040"},
     "encoding": {"x": {"field": "x", "type": "quantitative"}, "y": {"field": "y", "type": "quantitative"}, "text": {"field": "t"}}}
   ]
  }]
 }
 ]
},
{
 "spacing": 5,
 "resolve": {"scale": {"color": "independent", "strokeDash": "independent"}, "legend": {"color": "independent", "strokeDash": "independent"}},
 "hconcat": [
 {
  "title": {"text": "(c)", "orient": "bottom", "anchor": "middle", "dx": -32, "font": "Liberation Serif", "fontSize": 20, "color": "#000000", "offset": 10},
  "resolve": {"scale": {"color": "independent", "strokeDash": "independent"}, "legend": {"color": "independent", "strokeDash": "independent"}},
  "vconcat": [{
   "width": 453, "height": 216,
   "title": {"text": "Warm white (<5000 K)"},
   "resolve": {"scale": {"color": "independent", "strokeDash": "independent"}, "legend": {"color": "independent", "strokeDash": "independent"}},
   "layer": [
    {"data": {"name": "c"}, "mark": {"type": "line", "interpolate": "monotone", "strokeWidth": 1.4},
     "encoding": {
      "x": {"field": "x", "type": "quantitative", "scale": {"domain": [380, 720], "nice": false}, "axis": {"values": [380, 430, 480, 530, 580, 630, 680], "labelOverlap": false, "title": "Wavelength (nm)", "titleX": 200}},
      "y": {"field": "y", "type": "quantitative", "scale": {"domain": [0, 1400], "nice": false}, "axis": {"values": [0, 200, 400, 600, 800, 1000, 1200, 1400], "tickCount": 8, "labelOverlap": false, "labelBound": false, "title": "Intensity (Counts)", "titlePadding": 4}},
      "color": {"field": "s", "type": "nominal", "scale": {"domain": ["c1", "c2", "c3", "c4", "c5", "c6", "c8", "c9"], "range": ["#c4754a", "#d6967a", "#dcb3a3", "#e8c69e", "#f0d28e", "#f4d660", "#f6de84", "#fbefb4"]}, "legend": null}
     }},
    {"data": {"name": "c7"}, "mark": {"type": "line", "interpolate": "monotone", "strokeWidth": 2.6, "color": "#f2c200"},
     "encoding": {"x": {"field": "x", "type": "quantitative"}, "y": {"field": "y", "type": "quantitative"}}},
    {"data": {"name": "wc"}, "mark": {"type": "line", "interpolate": "monotone", "strokeWidth": 1.6},
     "encoding": {
      "x": {"field": "x", "type": "quantitative"},
      "y": {"field": "y", "type": "quantitative"},
      "color": {"field": "g", "type": "nominal", "scale": {"domain": ["Warm white", "c-LED", "ref"], "range": ["#e8665c", "#2fb14c", "#222222"]}, "legend": {"values": ["Warm white"], "legendX": 386, "legendY": 12}},
      "strokeDash": {"field": "g", "type": "nominal", "scale": {"domain": ["c-LED", "ref", "Warm white"], "range": [[2, 2], [4, 3], [1, 0]]}, "legend": {"values": ["c-LED"], "legendX": 386, "legendY": 33, "symbolStrokeColor": "#2fb14c"}}
     }},
    {"data": {"name": "tc"}, "mark": {"type": "text", "fontSize": 12, "color": "#404040"},
     "encoding": {"x": {"field": "x", "type": "quantitative"}, "y": {"field": "y", "type": "quantitative"}, "text": {"field": "t"}}}
   ]
  }]
 },
 {
  "title": {"text": "(d)", "orient": "bottom", "anchor": "middle", "dx": -18, "font": "Liberation Serif", "fontSize": 20, "color": "#000000", "offset": 10},
  "resolve": {"scale": {"color": "independent", "strokeDash": "independent"}, "legend": {"color": "independent", "strokeDash": "independent"}},
  "vconcat": [{
   "width": 421, "height": 211,
   "title": {"text": "Warm white (<5000 K)"},
   "resolve": {"scale": {"color": "independent", "strokeDash": "independent"}, "legend": {"color": "independent", "strokeDash": "independent"}},
   "layer": [
    {"data": {"name": "d"}, "mark": {"type": "line", "interpolate": "monotone", "strokeWidth": 1.6},
     "encoding": {
      "x": {"field": "x", "type": "quantitative", "scale": {"domain": [380, 720], "nice": false}, "axis": {"values": [380, 430, 480, 530, 580, 630, 680], "labelOverlap": false, "title": "Wavelength (nm)", "titleX": 184}},
      "y": {"field": "y", "type": "quantitative", "scale": {"domain": [0, 1400], "nice": false}, "axis": {"values": [0, 200, 400, 600, 800, 1000, 1200, 1400], "tickCount": 8, "labelOverlap": false, "labelBound": false, "title": "Intensity (Counts)", "titlePadding": 9}},
      "color": {"field": "s", "type": "nominal", "scale": {"domain": ["d1", "d2", "d3", "d4", "d5", "d6"], "range": ["#c06c3a", "#d98e62", "#ef9a26", "#f3a93e", "#f7be6a", "#f9cd86"]}, "legend": null}
     }},
    {"data": {"name": "wc"}, "mark": {"type": "line", "interpolate": "monotone", "strokeWidth": 1.6},
     "encoding": {
      "x": {"field": "x", "type": "quantitative"},
      "y": {"field": "y", "type": "quantitative"},
      "color": {"field": "g", "type": "nominal", "scale": {"domain": ["Warm white", "c-LED", "ref"], "range": ["#e8665c", "#2fb14c", "#222222"]}, "legend": {"values": ["Warm white"], "legendX": 344, "legendY": 10, "labelFontSize": 15.5}},
      "strokeDash": {"field": "g", "type": "nominal", "scale": {"domain": ["c-LED", "ref", "Warm white"], "range": [[2, 2], [4, 3], [1, 0]]}, "legend": {"values": ["c-LED"], "legendX": 344, "legendY": 31, "labelFontSize": 15.5, "symbolStrokeColor": "#2fb14c"}}
     }},
    {"data": {"name": "td"}, "mark": {"type": "text", "fontSize": 12, "color": "#404040"},
     "encoding": {"x": {"field": "x", "type": "quantitative"}, "y": {"field": "y", "type": "quantitative"}, "text": {"field": "t"}}}
   ]
  }]
 }
 ]
}
]
}
